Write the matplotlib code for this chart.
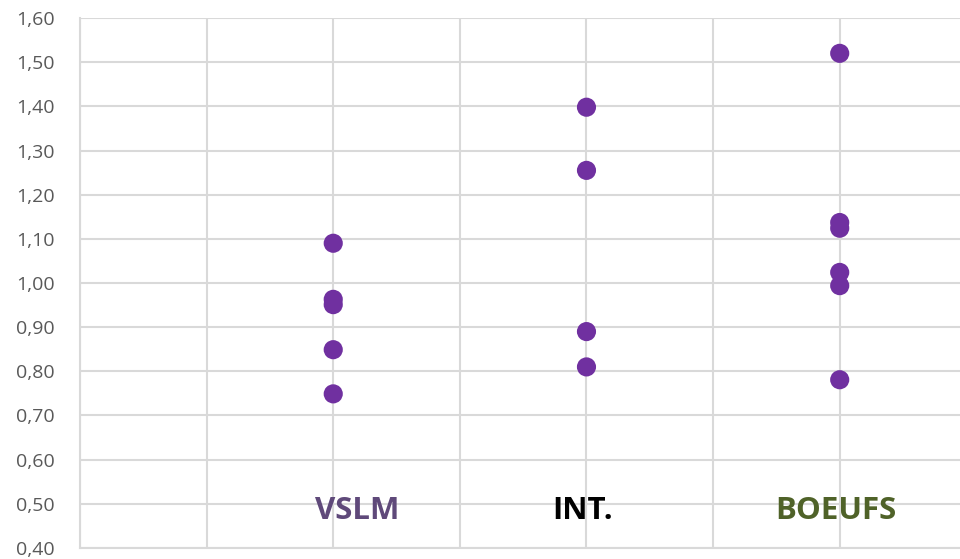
import matplotlib.pyplot as plt
from matplotlib.ticker import FuncFormatter, MultipleLocator

# Group positions on the x axis and their labels
groups = ["VSLM", "INT.", "BOEUFS"]
group_x = [2, 4, 6]
label_x = [2.19, 3.97, 5.97]
label_colors = ["#5f497a", "#000000", "#4f6228"]

# Measured values per group
vslm = [1.09, 0.963, 0.951, 0.849, 0.749]
inter = [1.398, 1.255, 0.890, 0.810]
boeufs = [1.520, 1.137, 1.124, 1.024, 0.994, 0.781]

series = [vslm, inter, boeufs]

fig = plt.figure(figsize=(9.6, 5.59), dpi=100)
ax = fig.add_axes([80 / 960, 11 / 559, 880 / 960, 530 / 559])

for x, vals in zip(group_x, series):
    ax.scatter([x] * len(vals), vals, s=190, color="#7030a0", zorder=3,
               edgecolors="none")

for x, name, c in zip(label_x, groups, label_colors):
    ax.text(x, 0.484, name, ha="center", va="center", color=c,
            fontsize=22.5, fontweight="bold", family="Open Sans", zorder=4)

ax.set_xlim(0, 6.95)
ax.set_ylim(0.40, 1.60)
ax.xaxis.set_major_locator(MultipleLocator(1))
ax.yaxis.set_major_locator(MultipleLocator(0.1))
ax.yaxis.set_major_formatter(FuncFormatter(lambda v, p: f"{v:.2f}".replace(".", ",")))
ax.set_xticklabels([])
ax.tick_params(axis="both", length=0)
ax.tick_params(axis="y", labelsize=14, labelcolor="#595959", pad=18)
for lbl in ax.get_yticklabels():
    lbl.set_family("Open Sans")

ax.grid(True, color="#d9d9d9", linewidth=1.5)
ax.set_axisbelow(True)
for side in ["top", "right"]:
    ax.spines[side].set_visible(False)
for side in ["left", "bottom"]:
    ax.spines[side].set_color("#d9d9d9")
    ax.spines[side].set_linewidth(1.5)

plt.savefig("out.png", dpi=100)
